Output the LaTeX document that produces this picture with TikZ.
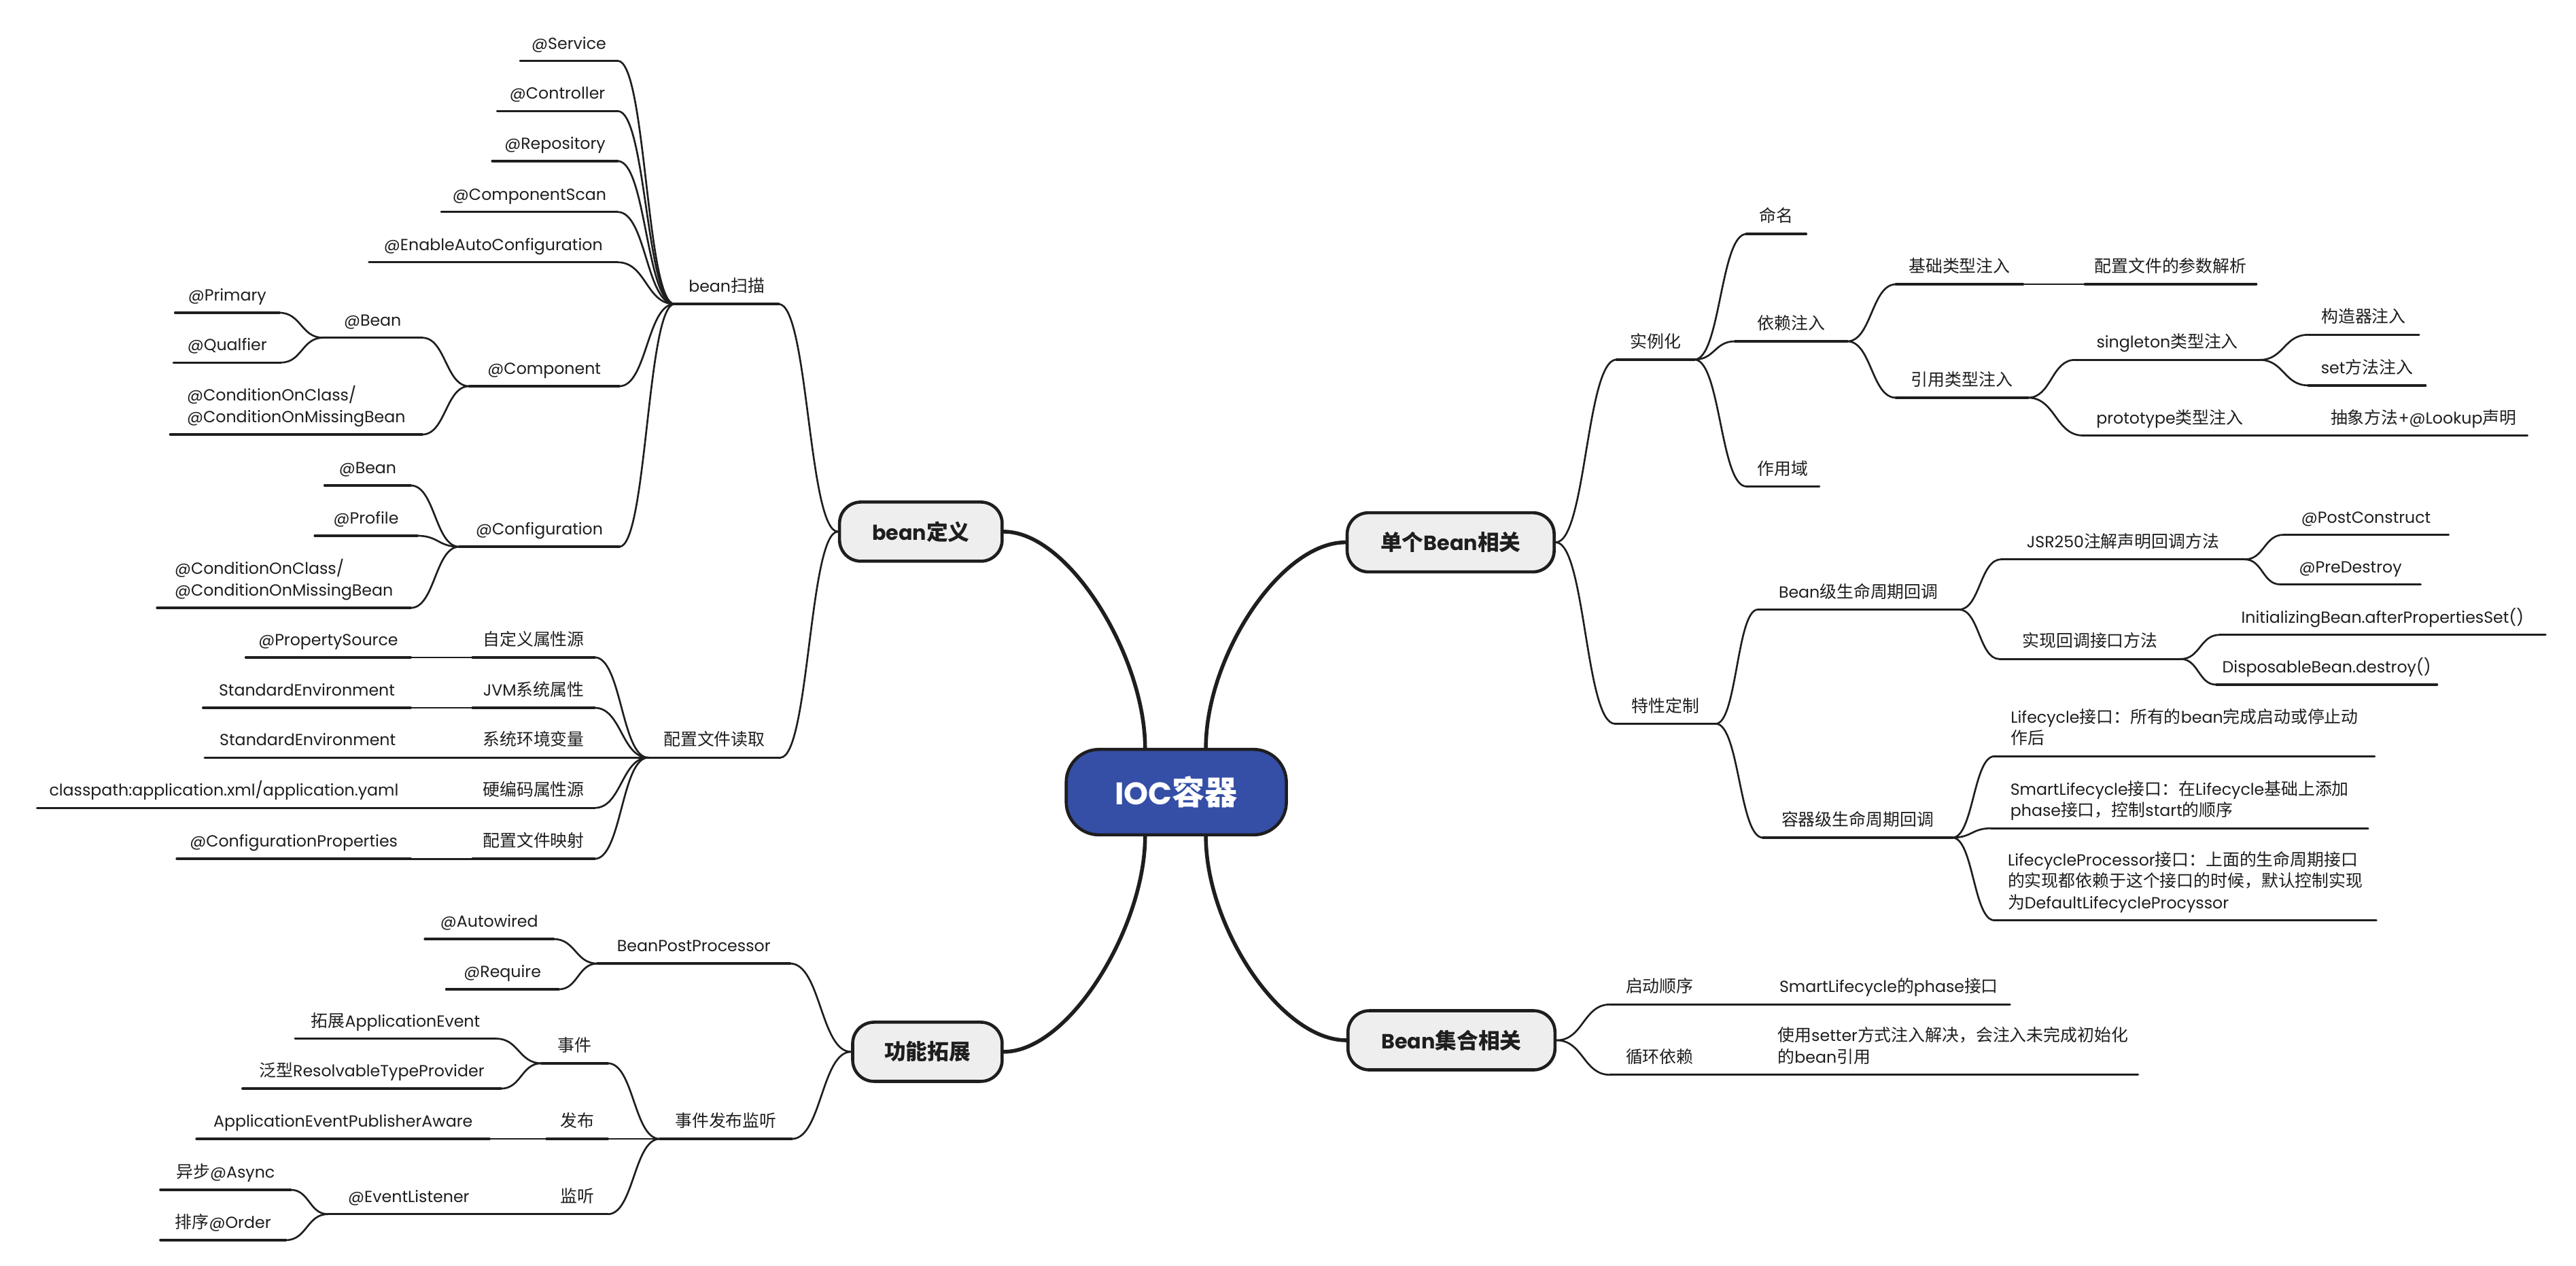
\documentclass[tikz,border=0pt]{standalone}
\usepackage{fontspec}
\setmainfont{Poppins}
\newfontfamily\cjkfont{Noto Sans CJK SC}[Scale=1.05]
\XeTeXinterchartokenstate=1
\newXeTeXintercharclass\cjkcls
\newcount\cjkc
\cjkc="3000 \loop\XeTeXcharclass\cjkc=\cjkcls \ifnum\cjkc<"303F \advance\cjkc by 1 \repeat
\cjkc="4E00 \loop\XeTeXcharclass\cjkc=\cjkcls \ifnum\cjkc<"9FFF \advance\cjkc by 1 \repeat
\cjkc="FF00 \loop\XeTeXcharclass\cjkc=\cjkcls \ifnum\cjkc<"FFEF \advance\cjkc by 1 \repeat
\def\setcjktoks#1{\ifnum#1=\cjkcls\else\XeTeXinterchartoks #1 \cjkcls={\cjkfont}\XeTeXinterchartoks \cjkcls #1={\rmfamily}\fi}
\setcjktoks{0}\setcjktoks{1}\setcjktoks{2}\setcjktoks{3}\setcjktoks{4095}
\usetikzlibrary{calc,backgrounds}
\definecolor{ink}{HTML}{1E1E1E}
\definecolor{boxgray}{HTML}{EEEEEE}
\definecolor{iocblue}{HTML}{354EA6}
\newcommand\dpfix{\rule[-2.5pt]{0pt}{2.5pt}}
\newcommand\curv[2]{\draw[conn] let \p1=(#1), \p2=(#2) in (\p1) .. controls ({0.5*\x1+0.5*\x2},\y1) and ({0.5*\x1+0.5*\x2},\y2) .. (\p2);}
\tikzset{
  lbl/.style={font=\fontsize{9.8}{13}\selectfont, text=ink, inner xsep=1pt, inner ysep=4.5pt, align=left},
  oneline/.style={text height=7.5pt, text depth=2.5pt},
  Lft/.style={lbl, oneline, anchor=south east, minimum width=#1pt},
  Rgt/.style={lbl, oneline, anchor=south west, minimum width=#1pt},
  LftM/.style={lbl, anchor=south east, minimum width=#1pt},
  RgtM/.style={lbl, anchor=south west, minimum width=#1pt},
  topic/.style={draw=ink, line width=1.9pt, fill=boxgray, rounded corners=13pt, minimum width=#1pt, minimum height=36pt, inner sep=0pt, font=\fontsize{12.5}{14}\selectfont\bfseries, text=ink},
  uline/.style={draw=ink, line width=1.4pt, line cap=round},
  conn/.style={draw=ink, line width=1.1pt, line cap=round},
  mainconn/.style={draw=ink, line width=2.3pt, line cap=round},
}
\begin{document}
\begin{tikzpicture}[x=1pt,y=-1pt]
\useasboundingbox (0,0) rectangle (1568,770);
% ---------- central and topic boxes
\node[draw=ink, line width=1.9pt, fill=iocblue, rounded corners=20pt, minimum width=134pt, minimum height=52pt, inner sep=0pt, font=\fontsize{19}{22}\selectfont\bfseries, text=white] (ioc) at (716,482) {IOC容器};
\node[topic=99] (bdef) at (560.5,323.5) {bean定义};
\node[topic=91] (func) at (564.5,640) {功能拓展};
\node[topic=126] (single) at (883,330) {单个Bean相关};
\node[topic=126] (coll) at (883.5,633) {Bean集合相关};
% ---------- bean definition branch
\node[Lft=59] (svc) at (376,37) {@Service};
\node[Lft=73] (ctl) at (376,67.6) {@Controller};
\node[Lft=76] (rep) at (376,98) {@Repository};
\node[Lft=107] (cscan) at (376,129) {@ComponentScan};
\node[Lft=151] (eac) at (376,159.6) {@EnableAutoConfiguration};
\node[Lft=63] (scan) at (474,185) {bean扫描};
\node[Lft=91] (comp) at (377,235) {@Component};
\node[Lft=60] (beanA) at (257,205.5) {@Bean};
\node[Lft=63] (prim) at (170,190.3) {@Primary};
\node[Lft=65] (qual) at (171,220.6) {@Qualfier};
\node[LftM=153] (condA) at (257,264.4) {@ConditionOnClass/\\@ConditionOnMissingBean\dpfix};
\node[Lft=97] (conf) at (377,332.7) {@Configuration};
\node[Lft=52] (beanB) at (250,295.4) {@Bean};
\node[Lft=62] (prof) at (254,326) {@Profile};
\node[LftM=154] (condB) at (250,369.9) {@ConditionOnClass/\\@ConditionOnMissingBean\dpfix};
\node[Lft=80] (cfg) at (475,461) {配置文件读取};
\node[Lft=74] (pa) at (362,400) {自定义属性源};
\node[Lft=74] (pb) at (362,430.7) {JVM系统属性};
\node[Lft=74] (pc) at (362,461) {系统环境变量};
\node[Lft=74] (pd) at (362,491.6) {硬编码属性源};
\node[Lft=74] (pe) at (362,522.6) {配置文件映射};
\node[Lft=100] (pac) at (250,400) {@PropertySource};
\node[Lft=126] (pbc) at (250,430.7) {StandardEnvironment};
\node[Lft=125] (pcc) at (250,461) {StandardEnvironment};
\node[Lft=227] (pdc) at (250,491.6) {classpath:application.xml/application.yaml};
\node[Lft=142] (pec) at (250,522.6) {@ConfigurationProperties};
% ---------- extension branch
\node[Lft=117] (bpp) at (481,586.3) {BeanPostProcessor};
\node[Lft=78] (aw) at (337,571.4) {@Autowired};
\node[Lft=68] (req) at (340,602) {@Require};
\node[Lft=80] (evpub) at (482,693) {事件发布监听};
\node[Lft=40] (ev) at (370,647) {事件};
\node[Lft=122] (evA) at (302,632) {拓展ApplicationEvent};
\node[Lft=157] (evB) at (305,662.4) {泛型ResolvableTypeProvider};
\node[Lft=37] (pub) at (370,693) {发布};
\node[Lft=178] (pubc) at (298,693) {ApplicationEventPublisherAware};
\node[Lft=37] (lis) at (370,738.8) {监听};
\node[Lft=98] (evl) at (298,738.8) {@EventListener};
\node[Lft=79] (async) at (177,724) {异步@Async};
\node[Lft=76] (order) at (174,754.6) {排序@Order};
% ---------- single bean branch
\node[Rgt=47] (inst) at (984,218.8) {实例化};
\node[Rgt=36] (nm) at (1063,142.4) {命名};
\node[Rgt=68] (di) at (1056,207.7) {依赖注入};
\node[Rgt=44] (scp) at (1063,296) {作用域};
\node[Rgt=77] (basic) at (1154,173) {基础类型注入};
\node[Rgt=104] (basicc) at (1269,173) {配置文件的参数解析};
\node[Rgt=80] (ref) at (1154,242) {引用类型注入};
\node[Rgt=112] (sing) at (1263,219) {singleton类型注入};
\node[Rgt=67] (ctor) at (1405,203.7) {构造器注入};
\node[Rgt=71] (setm) at (1405,234.5) {set方法注入};
\node[Rgt=105] (proto) at (1268,265) {prototype类型注入};
\node[Rgt=126] (protoc) at (1412,265) {抽象方法+@Lookup声明};
\node[Rgt=61] (trait) at (983,440.4) {特性定制};
\node[Rgt=122] (beanlc) at (1070,370.9) {Bean级生命周期回调};
\node[Rgt=148] (jsr) at (1218,340.4) {JSR250注解声明回调方法};
\node[Rgt=100] (pcon) at (1390,325.4) {@PostConstruct};
\node[Rgt=85] (pdes) at (1388,355.6) {@PreDestroy};
\node[Rgt=110] (impl) at (1217,401) {实现回调接口方法};
\node[Rgt=198] (ib) at (1351,386.3) {InitializingBean.afterPropertiesSet()};
\node[Rgt=134] (db) at (1349,416.6) {DisposableBean.destroy()};
\node[Rgt=115] (ctnlc) at (1073,509.7) {容器级生命周期回调};
\node[RgtM=231] (lcA) at (1214,460.2) {Lifecycle接口：所有的bean完成启动或停止动\\作后\dpfix};
\node[RgtM=229] (lcB) at (1212,504) {SmartLifecycle接口：在Lifecycle基础上添加\\phase接口，控制start的顺序\dpfix};
\node[RgtM=232] (lcC) at (1214,560) {LifecycleProcessor接口：上面的生命周期接口\\的实现都依赖于这个接口的时候，默认控制实现\\为DefaultLifecycleProcyssor\dpfix};
% ---------- bean collection branch
\node[Rgt=60] (strt) at (980,611.2) {启动顺序};
\node[Rgt=147] (strtc) at (1076,611.2) {SmartLifecycle的phase接口};
\node[Rgt=60] (circ) at (980,654) {循环依赖};
\node[RgtM=225] (circc) at (1076,654) {使用setter方式注入解决，会注入未完成初始化\\的bean引用\dpfix};
% ---------- underlines
\foreach \n in {svc,ctl,rep,cscan,eac,scan,comp,beanA,prim,qual,condA,conf,beanB,prof,condB,
  cfg,pa,pb,pc,pd,pe,pac,pbc,pcc,pdc,pec,bpp,aw,req,evpub,ev,evA,evB,pub,pubc,lis,evl,async,order,
  inst,nm,di,scp,basic,basicc,ref,sing,ctor,setm,proto,protoc,trait,beanlc,jsr,pcon,pdes,impl,ib,db,
  ctnlc,lcA,lcB,lcC,strt,strtc,circ,circc}
  \draw[uline] (\n.south west) -- (\n.south east);
\begin{pgfonlayer}{background}
\fill[white] (0,0) rectangle (1568,770);
% main connectors
\draw[mainconn] (bdef.east) .. controls +(40,0) and +(0,-55) .. ([xshift=-19pt]ioc.north);
\draw[mainconn] (single.west) .. controls +(-40,0) and +(0,-55) .. ([xshift=18pt]ioc.north);
\draw[mainconn] (func.east) .. controls +(40,0) and +(0,55) .. ([xshift=-19pt]ioc.south);
\draw[mainconn] (coll.west) .. controls +(-40,0) and +(0,55) .. ([xshift=18pt]ioc.south);
% topic to first level
\curv{scan.south east}{bdef.west}
\curv{cfg.south east}{bdef.west}
\curv{bpp.south east}{func.west}
\curv{evpub.south east}{func.west}
\curv{single.east}{inst.south west}
\curv{single.east}{trait.south west}
\curv{coll.east}{strt.south west}
\curv{coll.east}{circ.south west}
% deeper levels (left item / right item)
\foreach \a/\b in {svc/scan,ctl/scan,rep/scan,cscan/scan,eac/scan,comp/scan,conf/scan,
  beanA/comp,condA/comp,prim/beanA,qual/beanA,beanB/conf,prof/conf,condB/conf,
  pa/cfg,pb/cfg,pc/cfg,pd/cfg,pe/cfg,pac/pa,pbc/pb,pcc/pc,pdc/pd,pec/pe,
  aw/bpp,req/bpp,ev/evpub,pub/evpub,lis/evpub,evA/ev,evB/ev,pubc/pub,evl/lis,async/evl,order/evl,
  inst/nm,inst/di,inst/scp,di/basic,di/ref,basic/basicc,ref/sing,ref/proto,sing/ctor,sing/setm,proto/protoc,
  trait/beanlc,trait/ctnlc,beanlc/jsr,beanlc/impl,jsr/pcon,jsr/pdes,impl/ib,impl/db,
  ctnlc/lcA,ctnlc/lcB,ctnlc/lcC,strt/strtc,circ/circc}
  {\curv{\a.south east}{\b.south west}}
\end{pgfonlayer}
\end{tikzpicture}
\end{document}
